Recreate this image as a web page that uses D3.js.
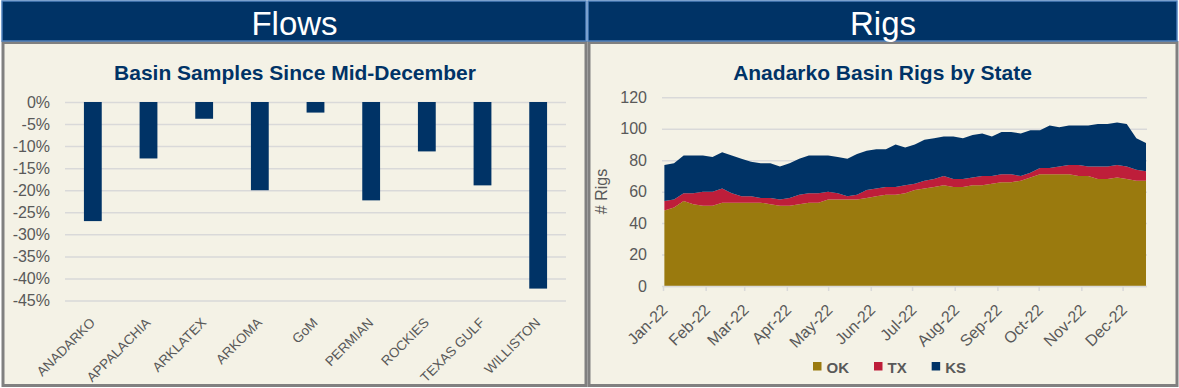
<!DOCTYPE html>
<html>
<head>
<meta charset="utf-8">
<script src="https://cdn.jsdelivr.net/npm/d3@7"></script>
<style>
    body { margin: 0; background: #ffffff; }
    svg text { font-family: "Liberation Sans", Arial, sans-serif; }
</style>
</head>
<body>
<svg id="chart" width="1179" height="388"></svg>
<script>
// ======== Data ========
const basins = ['ANADARKO', 'APPALACHIA', 'ARKLATEX', 'ARKOMA', 'GoM', 'PERMIAN', 'ROCKIES', 'TEXAS GULF', 'WILLISTON'];
const basinChange = [-0.27, -0.128, -0.038, -0.20, -0.024, -0.223, -0.112, -0.189, -0.423];
const pctTicks = [0, -0.05, -0.10, -0.15, -0.20, -0.25, -0.30, -0.35, -0.40, -0.45];

const weekDates = [
    '2022-01-02', '2022-01-09', '2022-01-16', '2022-01-23', '2022-01-30',
    '2022-02-06', '2022-02-13', '2022-02-20', '2022-02-27',
    '2022-03-06', '2022-03-13', '2022-03-20', '2022-03-27',
    '2022-04-03', '2022-04-10', '2022-04-17', '2022-04-24',
    '2022-05-01', '2022-05-08', '2022-05-15', '2022-05-22', '2022-05-29',
    '2022-06-05', '2022-06-12', '2022-06-19', '2022-06-26',
    '2022-07-03', '2022-07-10', '2022-07-17', '2022-07-24', '2022-07-31',
    '2022-08-07', '2022-08-14', '2022-08-21', '2022-08-28',
    '2022-09-04', '2022-09-11', '2022-09-18', '2022-09-25',
    '2022-10-02', '2022-10-09', '2022-10-16', '2022-10-23', '2022-10-30',
    '2022-11-06', '2022-11-13', '2022-11-20', '2022-11-27',
    '2022-12-04', '2022-12-11', '2022-12-18'
];
const okRigs = [48, 50, 54, 52, 51, 51, 53, 53, 53, 53,
    53, 52, 51, 51, 52, 53, 53, 55, 55, 55,
    55, 56, 57, 58, 58, 59, 61, 62, 63, 64,
    63, 63, 64, 64, 65, 66, 66, 67, 69, 71,
    71, 71, 71, 70, 70, 68, 68, 69, 68, 67, 67];
const txRigs = [6, 5, 5, 7, 9, 9, 9, 6, 4, 4,
    3, 4, 4, 5, 6, 6, 6, 5, 4, 2,
    3, 5, 5, 5, 5, 5, 4, 5, 5, 6,
    5, 5, 5, 6, 5, 5, 5, 3, 3, 4,
    4, 5, 6, 7, 6, 8, 8, 8, 8, 7, 6];
const ksRigs = [23, 23, 24, 24, 23, 22, 23, 24, 24, 22,
    22, 22, 21, 22, 23, 24, 24, 23, 23, 24,
    26, 25, 25, 24, 27, 24, 25, 26, 26, 25,
    27, 26, 27, 27, 25, 27, 27, 27, 27, 24,
    27, 25, 25, 25, 26, 27, 27, 27, 27, 20, 18];
const rigTicks = [0, 20, 40, 60, 80, 100, 120];
const states = ['OK', 'TX', 'KS'];
const stateColors = ['#9a7a0e', '#be1e3a', '#003366'];

const navy = '#003366';
const beige = '#f4f2e6';
const grey = '#595959';
const gridGrey = '#d9d9d9';

const svg = d3.select('#chart');

// ======== Panels ========
function panel(x0, x1, label) {
    svg.append('rect')
        .attr('x', x0).attr('y', 42.5)
        .attr('width', x1 - x0).attr('height', 343)
        .attr('fill', beige)
        .attr('stroke', '#808080')
        .attr('stroke-width', 3);
    svg.append('rect')
        .attr('x', x0 - 1).attr('y', 1)
        .attr('width', x1 - x0 + 1).attr('height', 40)
        .attr('fill', navy)
        .attr('stroke', '#4f81bd')
        .attr('stroke-width', 1.5);
    svg.append('text')
        .attr('x', (x0 + x1) / 2).attr('y', 35)
        .attr('text-anchor', 'middle')
        .attr('fill', '#ffffff')
        .style('font-size', '33px')
        .text(label);
}
panel(3, 586, 'Flows');
panel(589, 1177, 'Rigs');

function chartTitle(x, label) {
    svg.append('text')
        .attr('x', x).attr('y', 80)
        .attr('text-anchor', 'middle')
        .attr('fill', navy)
        .style('font-size', '21px')
        .style('font-weight', 'bold')
        .text(label);
}

// ======== Flows: basin bars ========
chartTitle(295, 'Basin Samples Since Mid-December');

const xBasin = d3.scaleBand()
    .domain(basins)
    .range([65, 566])
    .paddingInner(0.68)
    .paddingOuter(0.34);

const yPct = d3.scaleLinear()
    .domain([-0.45, 0])
    .range([300.5, 102]);

const yPctAxis = svg.append('g')
    .attr('transform', 'translate(65,0)')
    .call(d3.axisLeft(yPct)
        .tickValues(pctTicks)
        .tickSize(-501)
        .tickPadding(15)
        .tickFormat(d => Math.round(d * 100) + '%'));
yPctAxis.select('.domain').remove();
yPctAxis.selectAll('line').attr('stroke', gridGrey).attr('stroke-width', 1.5);
yPctAxis.selectAll('text')
    .attr('fill', grey)
    .style('font-size', '16px')
    .style('font-family', '"Liberation Sans", Arial, sans-serif');

svg.append('g')
    .selectAll('rect')
    .data(basins)
    .enter()
    .append('rect')
    .attr('x', d => xBasin(d))
    .attr('y', yPct(0))
    .attr('width', xBasin.bandwidth())
    .attr('height', (d, i) => yPct(basinChange[i]) - yPct(0))
    .attr('fill', navy);

const xBasinAxis = svg.append('g')
    .attr('transform', 'translate(0,300.5)')
    .call(d3.axisBottom(xBasin).tickSize(0));
xBasinAxis.select('.domain').remove();
xBasinAxis.selectAll('text')
    .attr('x', 0).attr('y', 0).attr('dy', 0)
    .attr('text-anchor', 'end')
    .attr('transform', 'translate(3,23) rotate(-45)')
    .attr('fill', grey)
    .style('font-size', '13.5px')
    .style('font-family', '"Liberation Sans", Arial, sans-serif');

// ======== Rigs: stacked area by state ========
chartTitle(882.5, 'Anadarko Basin Rigs by State');

const parseDate = d3.timeParse('%Y-%m-%d');
const rows = weekDates.map((d, i) => ({
    date: parseDate(d),
    OK: okRigs[i],
    TX: txRigs[i],
    KS: ksRigs[i]
}));

const xTime = d3.scaleTime()
    .domain([new Date(2022, 0, 1), new Date(2022, 11, 18)])
    .range([663, 1146]);

const yRigs = d3.scaleLinear()
    .domain([0, 120])
    .range([286, 97.3]);

const yRigAxis = svg.append('g')
    .attr('transform', 'translate(662,0)')
    .call(d3.axisLeft(yRigs)
        .tickValues(rigTicks)
        .tickSize(-485)
        .tickPadding(15));
yRigAxis.select('.domain').remove();
yRigAxis.selectAll('line').attr('stroke', gridGrey).attr('stroke-width', 1.5);
yRigAxis.selectAll('text')
    .attr('fill', grey)
    .style('font-size', '16px')
    .style('font-family', '"Liberation Sans", Arial, sans-serif');

svg.append('text')
    .attr('transform', 'translate(607,191.5) rotate(-90)')
    .attr('text-anchor', 'middle')
    .attr('fill', grey)
    .style('font-size', '16px')
    .text('# Rigs');

const stacked = d3.stack().keys(states)(rows);

const area = d3.area()
    .x(d => xTime(d.data.date))
    .y0(d => yRigs(d[0]))
    .y1(d => yRigs(d[1]));

svg.append('g')
    .selectAll('path')
    .data(stacked)
    .enter()
    .append('path')
    .attr('d', area)
    .attr('fill', (d, i) => stateColors[i]);

const xTimeAxis = svg.append('g')
    .attr('transform', 'translate(0,286)')
    .call(d3.axisBottom(xTime)
        .ticks(d3.timeMonth.every(1))
        .tickSize(5)
        .tickSizeOuter(0)
        .tickFormat(d3.timeFormat('%b-%y')));
xTimeAxis.select('.domain').attr('stroke', gridGrey).attr('stroke-width', 1.5);
xTimeAxis.selectAll('line').attr('stroke', gridGrey).attr('stroke-width', 1.5);
xTimeAxis.selectAll('text')
    .attr('x', 0).attr('y', 0).attr('dy', 0)
    .attr('text-anchor', 'end')
    .attr('transform', 'translate(5,25) rotate(-45)')
    .attr('fill', grey)
    .style('font-size', '16px')
    .style('font-family', '"Liberation Sans", Arial, sans-serif');

// ======== Legend ========
let lx = 813;
states.forEach(function (s, i) {
    svg.append('rect')
        .attr('x', lx).attr('y', 362)
        .attr('width', 8.5).attr('height', 8.5)
        .attr('fill', stateColors[i]);
    const t = svg.append('text')
        .attr('x', lx + 13.5).attr('y', 372.5)
        .attr('fill', grey)
        .style('font-size', '15px')
        .style('font-weight', 'bold')
        .text(s);
    lx += 13.5 + t.node().getComputedTextLength() + 25;
});
</script>
</body>
</html>
